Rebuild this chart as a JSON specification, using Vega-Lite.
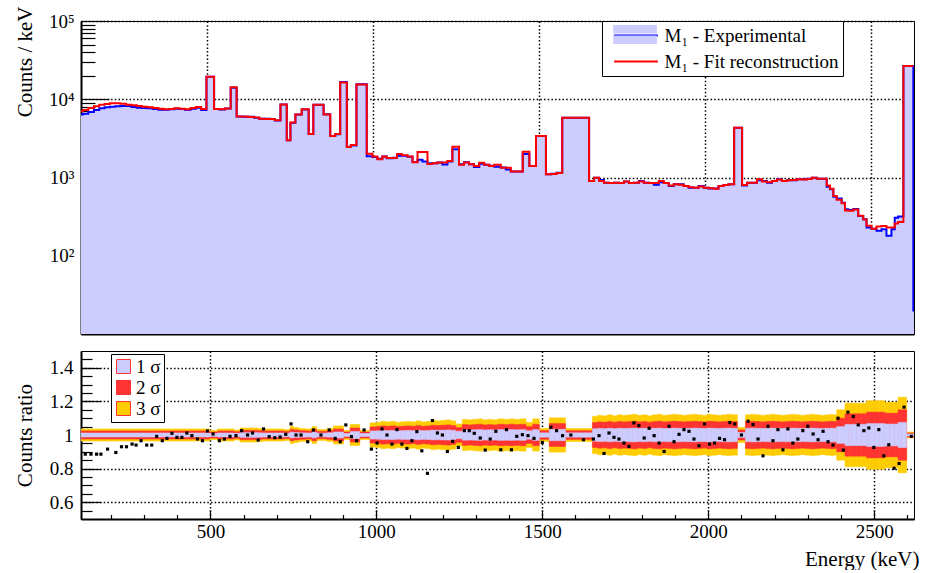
{
"$schema": "https://vega.github.io/schema/vega-lite/v6.json",
"background": "white",
"padding": {"left": 13, "top": 5, "right": 5, "bottom": 0},
"config": {
  "font": "Liberation Serif",
  "view": {"stroke": "black", "strokeWidth": 1},
  "axis": {"labelFont": "Liberation Serif", "titleFont": "Liberation Serif", "labelFontSize": 19, "titleFontSize": 21, "titleFontWeight": "normal", "labelColor": "black", "titleColor": "black", "tickColor": "black", "domainColor": "black", "gridColor": "black", "gridDash": [1.5, 2.2], "gridWidth": 1.5, "gridOpacity": 1, "labelFlush": false, "labelOverlap": false, "zindex": 1},
  "legend": {"labelFont": "Liberation Serif", "labelFontSize": 19, "labelColor": "black", "labelLimit": 400}
},
"datasets": {
"sig": [
{"s":0.006,"l1":0.994,"u1":1.006,"l2":0.988,"u2":1.012,"l3":0.982,"u3":1.018},
{"s":0.009,"l1":0.991,"u1":1.009,"l2":0.982,"u2":1.018,"l3":0.973,"u3":1.027},
{"s":0.01,"l1":0.99,"u1":1.01,"l2":0.98,"u2":1.02,"l3":0.97,"u3":1.03},
{"s":0.011,"l1":0.989,"u1":1.011,"l2":0.978,"u2":1.022,"l3":0.967,"u3":1.033},
{"s":0.012,"l1":0.988,"u1":1.012,"l2":0.976,"u2":1.024,"l3":0.964,"u3":1.036},
{"s":0.013,"l1":0.987,"u1":1.013,"l2":0.974,"u2":1.026,"l3":0.961,"u3":1.039},
{"s":0.014,"l1":0.986,"u1":1.014,"l2":0.972,"u2":1.028,"l3":0.958,"u3":1.042},
{"s":0.015,"l1":0.985,"u1":1.015,"l2":0.97,"u2":1.03,"l3":0.955,"u3":1.045},
{"s":0.017,"l1":0.983,"u1":1.017,"l2":0.966,"u2":1.034,"l3":0.949,"u3":1.051},
{"s":0.018,"l1":0.982,"u1":1.018,"l2":0.964,"u2":1.036,"l3":0.946,"u3":1.054},
{"s":0.021,"l1":0.979,"u1":1.021,"l2":0.958,"u2":1.042,"l3":0.937,"u3":1.063},
{"s":0.022,"l1":0.978,"u1":1.022,"l2":0.956,"u2":1.044,"l3":0.934,"u3":1.066},
{"s":0.024,"l1":0.976,"u1":1.024,"l2":0.952,"u2":1.048,"l3":0.928,"u3":1.072},
{"s":0.025,"l1":0.975,"u1":1.025,"l2":0.95,"u2":1.05,"l3":0.925,"u3":1.075},
{"s":0.026,"l1":0.974,"u1":1.026,"l2":0.948,"u2":1.052,"l3":0.922,"u3":1.078},
{"s":0.027,"l1":0.973,"u1":1.027,"l2":0.946,"u2":1.054,"l3":0.919,"u3":1.081},
{"s":0.028,"l1":0.972,"u1":1.028,"l2":0.944,"u2":1.056,"l3":0.916,"u3":1.084},
{"s":0.029,"l1":0.971,"u1":1.029,"l2":0.942,"u2":1.058,"l3":0.913,"u3":1.087},
{"s":0.03,"l1":0.97,"u1":1.03,"l2":0.94,"u2":1.06,"l3":0.91,"u3":1.09},
{"s":0.031,"l1":0.969,"u1":1.031,"l2":0.938,"u2":1.062,"l3":0.907,"u3":1.093},
{"s":0.032,"l1":0.968,"u1":1.032,"l2":0.936,"u2":1.064,"l3":0.904,"u3":1.096},
{"s":0.034,"l1":0.966,"u1":1.034,"l2":0.932,"u2":1.068,"l3":0.898,"u3":1.102},
{"s":0.037,"l1":0.963,"u1":1.037,"l2":0.926,"u2":1.074,"l3":0.889,"u3":1.111},
{"s":0.038,"l1":0.962,"u1":1.038,"l2":0.924,"u2":1.076,"l3":0.886,"u3":1.114},
{"s":0.039,"l1":0.961,"u1":1.039,"l2":0.922,"u2":1.078,"l3":0.883,"u3":1.117},
{"s":0.04,"l1":0.96,"u1":1.04,"l2":0.92,"u2":1.08,"l3":0.88,"u3":1.12},
{"s":0.041,"l1":0.959,"u1":1.041,"l2":0.918,"u2":1.082,"l3":0.877,"u3":1.123},
{"s":0.05,"l1":0.95,"u1":1.05,"l2":0.9,"u2":1.1,"l3":0.85,"u3":1.15},
{"s":0.063,"l1":0.937,"u1":1.063,"l2":0.874,"u2":1.126,"l3":0.811,"u3":1.189},
{"s":0.065,"l1":0.935,"u1":1.065,"l2":0.87,"u2":1.13,"l3":0.805,"u3":1.195},
{"s":0.068,"l1":0.932,"u1":1.068,"l2":0.864,"u2":1.136,"l3":0.796,"u3":1.204},
{"s":0.075,"l1":0.925,"u1":1.075,"l2":0.85,"u2":1.15,"l3":0.775,"u3":1.225}
],
"bins": [
{"lo":110,"hi":126,"exp":6380,"fit":7050,"s":0.012},
{"lo":126,"hi":142,"exp":6540,"fit":7290,"s":0.012},
{"lo":142,"hi":159,"exp":6875,"fit":7730,"s":0.012},
{"lo":159,"hi":175,"exp":7290,"fit":8120,"s":0.012},
{"lo":175,"hi":191,"exp":7660,"fit":8530,"s":0.012},
{"lo":191,"hi":207,"exp":7880,"fit":8695,"s":0.012},
{"lo":207,"hi":223,"exp":8040,"fit":8870,"s":0.012},
{"lo":223,"hi":239,"exp":8120,"fit":8870,"s":0.012},
{"lo":239,"hi":256,"exp":8200,"fit":8780,"s":0.012},
{"lo":256,"hi":272,"exp":8200,"fit":8530,"s":0.012},
{"lo":272,"hi":288,"exp":7960,"fit":8360,"s":0.012},
{"lo":288,"hi":304,"exp":7810,"fit":8200,"s":0.012},
{"lo":304,"hi":320,"exp":7730,"fit":8040,"s":0.012},
{"lo":320,"hi":336,"exp":7660,"fit":7880,"s":0.012},
{"lo":336,"hi":353,"exp":7510,"fit":7730,"s":0.012},
{"lo":353,"hi":369,"exp":7360,"fit":7580,"s":0.012},
{"lo":369,"hi":385,"exp":7360,"fit":7430,"s":0.012},
{"lo":385,"hi":401,"exp":7430,"fit":7510,"s":0.012},
{"lo":401,"hi":417,"exp":7580,"fit":7660,"s":0.012},
{"lo":417,"hi":433,"exp":7510,"fit":7580,"s":0.012},
{"lo":433,"hi":450,"exp":7360,"fit":7430,"s":0.012},
{"lo":450,"hi":466,"exp":7580,"fit":7730,"s":0.012},
{"lo":466,"hi":482,"exp":7810,"fit":7960,"s":0.012},
{"lo":482,"hi":498,"exp":7300,"fit":7500,"s":0.012},
{"lo":498,"hi":521,"exp":19400,"fit":19400,"s":0.009},
{"lo":521,"hi":537,"exp":7500,"fit":7500,"s":0.012},
{"lo":537,"hi":554,"exp":7400,"fit":7450,"s":0.012},
{"lo":554,"hi":571,"exp":7600,"fit":7600,"s":0.012},
{"lo":571,"hi":589,"exp":14000,"fit":14200,"s":0.01},
{"lo":589,"hi":606,"exp":6000,"fit":6000,"s":0.014},
{"lo":606,"hi":623,"exp":5990,"fit":6000,"s":0.014},
{"lo":623,"hi":642,"exp":5990,"fit":5950,"s":0.014},
{"lo":642,"hi":657,"exp":5800,"fit":5850,"s":0.013},
{"lo":657,"hi":674,"exp":5650,"fit":5650,"s":0.012},
{"lo":674,"hi":690,"exp":5640,"fit":5600,"s":0.012},
{"lo":690,"hi":704,"exp":5600,"fit":5600,"s":0.012},
{"lo":704,"hi":721,"exp":5370,"fit":5400,"s":0.012},
{"lo":721,"hi":740,"exp":8600,"fit":8600,"s":0.011},
{"lo":740,"hi":751,"exp":2990,"fit":2990,"s":0.017},
{"lo":751,"hi":766,"exp":5000,"fit":5050,"s":0.015},
{"lo":766,"hi":785,"exp":6400,"fit":6400,"s":0.013},
{"lo":785,"hi":806,"exp":7400,"fit":7450,"s":0.012},
{"lo":806,"hi":820,"exp":3600,"fit":3600,"s":0.017},
{"lo":820,"hi":851,"exp":8500,"fit":8500,"s":0.011},
{"lo":851,"hi":871,"exp":6450,"fit":6400,"s":0.013},
{"lo":871,"hi":886,"exp":3390,"fit":3400,"s":0.018},
{"lo":886,"hi":901,"exp":3560,"fit":3600,"s":0.018},
{"lo":901,"hi":921,"exp":16600,"fit":16400,"s":0.009},
{"lo":921,"hi":933,"exp":2480,"fit":2450,"s":0.021},
{"lo":933,"hi":950,"exp":2560,"fit":2600,"s":0.021},
{"lo":950,"hi":981,"exp":15500,"fit":15400,"s":0.009},
{"lo":981,"hi":998,"exp":1870,"fit":2010,"s":0.024},
{"lo":998,"hi":1013,"exp":1830,"fit":1850,"s":0.025},
{"lo":1013,"hi":1028,"exp":1730,"fit":1710,"s":0.027},
{"lo":1028,"hi":1041,"exp":1850,"fit":1850,"s":0.026},
{"lo":1041,"hi":1059,"exp":1760,"fit":1780,"s":0.027},
{"lo":1059,"hi":1072,"exp":1790,"fit":1770,"s":0.025},
{"lo":1072,"hi":1087,"exp":1900,"fit":2000,"s":0.026},
{"lo":1087,"hi":1104,"exp":1900,"fit":1930,"s":0.027},
{"lo":1104,"hi":1119,"exp":1840,"fit":1860,"s":0.026},
{"lo":1119,"hi":1134,"exp":1580,"fit":1570,"s":0.028},
{"lo":1134,"hi":1149,"exp":1680,"fit":2120,"s":0.026},
{"lo":1149,"hi":1164,"exp":1600,"fit":2120,"s":0.027},
{"lo":1164,"hi":1179,"exp":1520,"fit":1490,"s":0.029},
{"lo":1179,"hi":1194,"exp":1520,"fit":1520,"s":0.028},
{"lo":1194,"hi":1209,"exp":1550,"fit":1550,"s":0.029},
{"lo":1209,"hi":1224,"exp":1470,"fit":1560,"s":0.03},
{"lo":1224,"hi":1239,"exp":1600,"fit":1620,"s":0.028},
{"lo":1239,"hi":1259,"exp":2300,"fit":2480,"s":0.022},
{"lo":1259,"hi":1274,"exp":1480,"fit":1460,"s":0.031},
{"lo":1274,"hi":1289,"exp":1570,"fit":1550,"s":0.03},
{"lo":1289,"hi":1304,"exp":1480,"fit":1480,"s":0.031},
{"lo":1304,"hi":1320,"exp":1360,"fit":1400,"s":0.032},
{"lo":1320,"hi":1335,"exp":1500,"fit":1540,"s":0.03},
{"lo":1335,"hi":1350,"exp":1450,"fit":1460,"s":0.031},
{"lo":1350,"hi":1365,"exp":1410,"fit":1400,"s":0.03},
{"lo":1365,"hi":1385,"exp":1370,"fit":1450,"s":0.032},
{"lo":1385,"hi":1400,"exp":1340,"fit":1330,"s":0.031},
{"lo":1400,"hi":1415,"exp":1270,"fit":1330,"s":0.032},
{"lo":1415,"hi":1432,"exp":1190,"fit":1190,"s":0.031},
{"lo":1432,"hi":1451,"exp":1190,"fit":1190,"s":0.032},
{"lo":1451,"hi":1471,"exp":2000,"fit":2140,"s":0.025},
{"lo":1471,"hi":1491,"exp":1400,"fit":1400,"s":0.032},
{"lo":1491,"hi":1521,"exp":3390,"fit":3390,"s":0.013},
{"lo":1521,"hi":1537,"exp":1100,"fit":1100,"s":0.034},
{"lo":1537,"hi":1553,"exp":1120,"fit":1110,"s":0.034},
{"lo":1553,"hi":1570,"exp":1150,"fit":1140,"s":0.034},
{"lo":1570,"hi":1651,"exp":5820,"fit":5820,"s":0.013},
{"lo":1651,"hi":1666,"exp":900,"fit":900,"s":0.037},
{"lo":1666,"hi":1681,"exp":995,"fit":995,"s":0.039},
{"lo":1681,"hi":1696,"exp":930,"fit":900,"s":0.038},
{"lo":1696,"hi":1711,"exp":860,"fit":860,"s":0.04},
{"lo":1711,"hi":1726,"exp":850,"fit":850,"s":0.038},
{"lo":1726,"hi":1741,"exp":860,"fit":860,"s":0.04},
{"lo":1741,"hi":1756,"exp":850,"fit":850,"s":0.039},
{"lo":1756,"hi":1771,"exp":890,"fit":890,"s":0.04},
{"lo":1771,"hi":1786,"exp":850,"fit":850,"s":0.041},
{"lo":1786,"hi":1801,"exp":860,"fit":860,"s":0.039},
{"lo":1801,"hi":1816,"exp":900,"fit":890,"s":0.04},
{"lo":1816,"hi":1831,"exp":860,"fit":860,"s":0.038},
{"lo":1831,"hi":1846,"exp":850,"fit":850,"s":0.04},
{"lo":1846,"hi":1861,"exp":810,"fit":850,"s":0.041},
{"lo":1861,"hi":1876,"exp":870,"fit":900,"s":0.039},
{"lo":1876,"hi":1891,"exp":850,"fit":850,"s":0.04},
{"lo":1891,"hi":1906,"exp":780,"fit":790,"s":0.041},
{"lo":1906,"hi":1921,"exp":818,"fit":818,"s":0.04},
{"lo":1921,"hi":1936,"exp":818,"fit":810,"s":0.039},
{"lo":1936,"hi":1951,"exp":778,"fit":778,"s":0.04},
{"lo":1951,"hi":1966,"exp":741,"fit":750,"s":0.041},
{"lo":1966,"hi":1981,"exp":741,"fit":741,"s":0.04},
{"lo":1981,"hi":1996,"exp":778,"fit":770,"s":0.039},
{"lo":1996,"hi":2011,"exp":741,"fit":741,"s":0.041},
{"lo":2011,"hi":2026,"exp":725,"fit":730,"s":0.04},
{"lo":2026,"hi":2041,"exp":725,"fit":720,"s":0.039},
{"lo":2041,"hi":2056,"exp":778,"fit":778,"s":0.04},
{"lo":2056,"hi":2071,"exp":800,"fit":800,"s":0.041},
{"lo":2071,"hi":2088,"exp":818,"fit":818,"s":0.04},
{"lo":2088,"hi":2112,"exp":4330,"fit":4330,"s":0.015},
{"lo":2112,"hi":2127,"exp":790,"fit":800,"s":0.04},
{"lo":2127,"hi":2142,"exp":860,"fit":860,"s":0.041},
{"lo":2142,"hi":2157,"exp":860,"fit":860,"s":0.04},
{"lo":2157,"hi":2172,"exp":920,"fit":948,"s":0.039},
{"lo":2172,"hi":2187,"exp":900,"fit":890,"s":0.04},
{"lo":2187,"hi":2202,"exp":860,"fit":870,"s":0.041},
{"lo":2202,"hi":2217,"exp":900,"fit":900,"s":0.04},
{"lo":2217,"hi":2232,"exp":948,"fit":940,"s":0.039},
{"lo":2232,"hi":2247,"exp":900,"fit":900,"s":0.04},
{"lo":2247,"hi":2262,"exp":920,"fit":920,"s":0.041},
{"lo":2262,"hi":2277,"exp":920,"fit":930,"s":0.04},
{"lo":2277,"hi":2292,"exp":948,"fit":948,"s":0.039},
{"lo":2292,"hi":2307,"exp":948,"fit":940,"s":0.04},
{"lo":2307,"hi":2322,"exp":965,"fit":960,"s":0.041},
{"lo":2322,"hi":2337,"exp":994,"fit":990,"s":0.04},
{"lo":2337,"hi":2352,"exp":965,"fit":965,"s":0.039},
{"lo":2352,"hi":2367,"exp":965,"fit":965,"s":0.04},
{"lo":2367,"hi":2377,"exp":764,"fit":790,"s":0.041},
{"lo":2377,"hi":2387,"exp":706,"fit":720,"s":0.04},
{"lo":2387,"hi":2397,"exp":569,"fit":580,"s":0.05},
{"lo":2397,"hi":2412,"exp":540,"fit":520,"s":0.05},
{"lo":2412,"hi":2422,"exp":476,"fit":470,"s":0.063},
{"lo":2422,"hi":2432,"exp":392,"fit":380,"s":0.063},
{"lo":2432,"hi":2447,"exp":385,"fit":375,"s":0.063},
{"lo":2447,"hi":2462,"exp":396,"fit":390,"s":0.063},
{"lo":2462,"hi":2477,"exp":322,"fit":325,"s":0.063},
{"lo":2477,"hi":2487,"exp":292,"fit":290,"s":0.068},
{"lo":2487,"hi":2502,"exp":229,"fit":241,"s":0.068},
{"lo":2502,"hi":2517,"exp":222,"fit":222,"s":0.068},
{"lo":2517,"hi":2532,"exp":209,"fit":236,"s":0.068},
{"lo":2532,"hi":2547,"exp":218,"fit":240,"s":0.065},
{"lo":2547,"hi":2562,"exp":180,"fit":229,"s":0.065},
{"lo":2562,"hi":2572,"exp":218,"fit":229,"s":0.065},
{"lo":2572,"hi":2582,"exp":306,"fit":259,"s":0.075},
{"lo":2582,"hi":2598,"exp":318,"fit":270,"s":0.075},
{"lo":2598,"hi":2628,"exp":26600,"fit":26600,"s":0.006},
{"lo":2628,"hi":2631,"exp":20,"fit":26600},
{"lo":2631,"exp":20}
],
"dots": [
{"e":123,"r":0.886},{"e":140,"r":0.886},{"e":157,"r":0.886},{"e":170,"r":0.886},{"e":190,"r":0.916},{"e":215,"r":0.896},{"e":232,"r":0.93},{"e":247,"r":0.93},{"e":264,"r":0.946},{"e":276,"r":0.94},{"e":291,"r":0.966},{"e":308,"r":0.94},{"e":323,"r":0.94},{"e":338,"r":0.992},{"e":355,"r":0.966},{"e":369,"r":0.98},{"e":384,"r":1.01},{"e":399,"r":0.986},{"e":414,"r":0.986},{"e":429,"r":1.012},{"e":444,"r":0.996},{"e":461,"r":0.976},{"e":476,"r":0.966},{"e":491,"r":1.024},{"e":508,"r":1.006},{"e":527,"r":0.966},{"e":542,"r":0.976},{"e":559,"r":0.992},{"e":577,"r":0.996},{"e":594,"r":1.026},{"e":612,"r":1.0},{"e":627,"r":1.012},{"e":644,"r":0.97},{"e":660,"r":1.036},{"e":677,"r":0.99},{"e":694,"r":0.984},{"e":710,"r":0.988},{"e":727,"r":1.004},{"e":743,"r":1.066},{"e":758,"r":1.0},{"e":773,"r":1.0},{"e":793,"r":0.96},{"e":810,"r":1.03},{"e":833,"r":1.0},{"e":858,"r":1.03},{"e":876,"r":0.98},{"e":891,"r":0.96},{"e":908,"r":1.06},{"e":925,"r":0.99},{"e":940,"r":0.966},{"e":963,"r":1.03},{"e":985,"r":0.916},
{"e":1002,"r":0.952},{"e":1017,"r":1.036},{"e":1032,"r":1.0},{"e":1047,"r":0.946},{"e":1062,"r":1.032},{"e":1077,"r":0.946},{"e":1092,"r":0.92},{"e":1107,"r":0.966},{"e":1122,"r":1.02},{"e":1137,"r":0.906},{"e":1154,"r":0.772},{"e":1169,"r":1.086},{"e":1184,"r":1.012},{"e":1199,"r":1.0},{"e":1214,"r":0.902},{"e":1230,"r":0.962},{"e":1247,"r":0.926},{"e":1265,"r":1.026},{"e":1280,"r":1.026},{"e":1295,"r":1.01},{"e":1313,"r":0.982},{"e":1328,"r":0.91},{"e":1343,"r":0.976},{"e":1360,"r":1.022},{"e":1375,"r":0.912},{"e":1392,"r":1.032},{"e":1407,"r":0.912},{"e":1423,"r":0.992},{"e":1440,"r":1.002},{"e":1457,"r":0.996},{"e":1475,"r":0.98},{"e":1500,"r":0.956},{"e":1526,"r":1.046},{"e":1543,"r":1.026},{"e":1561,"r":0.996},{"e":1586,"r":1.0},{"e":1624,"r":0.972},{"e":1654,"r":0.976},{"e":1671,"r":0.996},{"e":1686,"r":0.89},{"e":1701,"r":1.012},{"e":1716,"r":0.986},{"e":1731,"r":0.976},{"e":1746,"r":0.952},{"e":1761,"r":0.932},{"e":1776,"r":1.072},{"e":1791,"r":1.056},{"e":1807,"r":0.982},{"e":1822,"r":1.04},{"e":1837,"r":0.996},{"e":1852,"r":0.952},{"e":1867,"r":0.902},{"e":1882,"r":1.052},{"e":1897,"r":0.96},{"e":1912,"r":1.004},{"e":1927,"r":1.032},{"e":1942,"r":1.022},{"e":1957,"r":0.976},{"e":1972,"r":0.936},{"e":1989,"r":1.066},
{"e":2004,"r":0.946},{"e":2019,"r":0.952},{"e":2034,"r":0.98},{"e":2049,"r":0.972},{"e":2065,"r":1.074},{"e":2080,"r":1.066},{"e":2100,"r":1.0},{"e":2120,"r":1.082},{"e":2135,"r":1.062},{"e":2150,"r":0.976},{"e":2165,"r":0.876},{"e":2180,"r":1.052},{"e":2195,"r":0.966},{"e":2210,"r":1.032},{"e":2225,"r":0.912},{"e":2240,"r":1.036},{"e":2255,"r":0.952},{"e":2270,"r":0.976},{"e":2285,"r":1.026},{"e":2300,"r":1.052},{"e":2316,"r":1.006},{"e":2331,"r":0.972},{"e":2346,"r":1.022},{"e":2361,"r":0.96},{"e":2376,"r":0.94},{"e":2391,"r":1.1},{"e":2407,"r":0.91},{"e":2421,"r":1.136},{"e":2437,"r":1.11},{"e":2452,"r":1.06},{"e":2469,"r":1.026},{"e":2484,"r":1.042},{"e":2499,"r":0.926},{"e":2514,"r":1.032},{"e":2529,"r":0.876},{"e":2544,"r":0.942},{"e":2560,"r":0.802},{"e":2575,"r":0.83},{"e":2590,"r":1.166},{"e":2612,"r":0.992}
]
},
"spacing": 14,
"resolve": {"scale": {"x": "independent", "y": "independent", "fill": "independent", "stroke": "independent"}, "legend": {"fill": "independent", "stroke": "independent"}},
"vconcat": [
{
  "width": 833, "height": 313,
  "data": {"name": "bins"},
  "resolve": {"axis": {"x": "independent", "y": "independent"}},
  "layer": [
    {
      "mark": {"type": "area", "interpolate": "step-after", "clip": true, "opacity": 1},
      "encoding": {
        "x": {"field": "lo", "type": "quantitative", "scale": {"domain": [120, 2630], "nice": false, "zero": false},
              "axis": {"orient": "bottom", "values": [200,300,400,600,700,800,900,1100,1200,1300,1400,1600,1700,1800,1900,2100,2200,2300,2400,2600], "tickSize": -4.5, "tickWidth": 1.2, "labels": false, "grid": false, "domain": true, "domainWidth": 2, "title": null}},
        "y": {"field": "exp", "type": "quantitative", "scale": {"type": "log", "domain": [10, 100000], "nice": false},
              "axis": {"orient": "left", "values": [20,30,40,50,60,70,80,90,200,300,400,500,600,700,800,900,2000,3000,4000,5000,6000,7000,8000,9000,20000,30000,40000,50000,60000,70000,80000,90000], "tickSize": -14, "tickWidth": 1.2, "labels": false, "grid": false, "domain": true, "domainWidth": 2, "title": null}},
        "y2": {"datum": 10},
        "fill": {"datum": "M₁ - Experimental",
                 "scale": {"domain": ["M₁ - Experimental", "M₁ - Fit reconstruction", "-"], "range": ["#ccccff", "transparent", "transparent"]},
                 "legend": {"values": ["M₁ - Experimental", "M₁ - Fit reconstruction"], "orient": "none", "legendX": 521, "legendY": 0, "title": null,
                            "symbolType": "M-2.3,-1H2.3V-0.1H-2.3ZM-2.3,0.1H2.3V1H-2.3Z", "symbolSize": 361, "symbolOffset": 19.5, "symbolStrokeWidth": 0, "symbolOpacity": 1,
                            "labelExpr": "''", "labelOffset": 18, "padding": 4, "rowPadding": 5, "zindex": 3}}
      }
    },
    {
      "mark": {"type": "line", "interpolate": "step-after", "clip": true, "strokeWidth": 2},
      "encoding": {
        "x": {"field": "lo", "type": "quantitative",
              "axis": {"orient": "bottom", "values": [500,1000,1500,2000,2500], "tickSize": -9, "tickWidth": 1.2, "labels": false, "grid": true, "domain": false, "title": null}},
        "y": {"field": "exp", "type": "quantitative",
              "axis": {"orient": "left", "values": [100,1000,10000,100000], "tickSize": -28, "tickWidth": 1.2, "labelPadding": 35,
                       "labelExpr": "datum.value >= 99999 ? '10⁵' : datum.value >= 9999 ? '10⁴' : datum.value >= 999 ? '10³' : '10²'",
                       "grid": true, "domain": false, "title": "Counts / keV", "titleX": -46, "titleY": -15, "titleAngle": 270, "titleAlign": "right", "titleBaseline": "bottom"}},
        "stroke": {"datum": "M₁ - Experimental",
                   "scale": {"domain": ["M₁ - Experimental", "M₁ - Fit reconstruction"], "range": ["#0000ff", "#ff0000"]},
                   "legend": {"orient": "none", "legendX": 521, "legendY": 0, "title": null, "symbolType": "M-2.3,0H2.3", "symbolSize": 361, "symbolOffset": 19.5, "symbolStrokeWidth": 2,
                              "labelFontSize": 19, "labelOffset": 18, "padding": 4, "rowPadding": 5, "fillColor": "white", "strokeColor": "black", "zindex": 2}}
      }
    },
    {
      "mark": {"type": "line", "interpolate": "step-after", "clip": true, "strokeWidth": 2},
      "encoding": {
        "x": {"field": "lo", "type": "quantitative", "axis": null},
        "y": {"field": "fit", "type": "quantitative", "axis": null},
        "stroke": {"datum": "M₁ - Fit reconstruction"}
      }
    }
  ]
},
{
  "width": 833, "height": 168,
  "resolve": {"axis": {"x": "independent", "y": "independent"}},
  "layer": [
    {
      "data": {"name": "bins"},
      "transform": [{"filter": "isValid(datum.s)"}, {"lookup": "s", "from": {"data": {"name": "sig"}, "key": "s", "fields": ["l1","u1","l2","u2","l3","u3"]}}],
      "mark": {"type": "rect", "clip": true, "stroke": "#ffcc00", "strokeWidth": 0.5},
      "encoding": {
        "x": {"field": "lo", "type": "quantitative", "scale": {"domain": [110, 2620], "nice": false, "zero": false},
              "axis": {"orient": "bottom", "values": [200,300,400,600,700,800,900,1100,1200,1300,1400,1600,1700,1800,1900,2100,2200,2300,2400,2600], "tickSize": -4.5, "tickWidth": 1.2, "labels": false, "grid": false, "domain": true, "domainWidth": 2, "title": null}},
        "x2": {"field": "hi"},
        "y": {"field": "l3", "type": "quantitative", "scale": {"domain": [0.5, 1.5], "nice": false, "zero": false},
              "axis": {"orient": "left", "values": [0.55,0.6,0.65,0.7,0.75,0.8,0.85,0.9,0.95,1,1.05,1.1,1.15,1.2,1.25,1.3,1.35,1.4,1.45], "tickSize": -11, "tickWidth": 1.2, "labels": false, "grid": false, "domain": true, "domainWidth": 2, "title": null}},
        "y2": {"field": "u3"},
        "fill": {"datum": "3 σ",
                 "scale": {"domain": ["1 σ", "2 σ", "3 σ"], "range": ["#ccccff", "#ff3333", "#ffcc00"]},
                 "legend": {"orient": "none", "legendX": 30, "legendY": 3, "title": null, "symbolType": "square", "symbolSize": 196, "symbolStrokeColor": "#333333", "symbolStrokeWidth": 1, "symbolOpacity": 1, "labelFontSize": 19, "labelOffset": 3, "padding": 3, "rowPadding": 1, "fillColor": "white", "strokeColor": "black", "zindex": 2}}
      }
    },
    {
      "data": {"name": "bins"},
      "transform": [{"filter": "isValid(datum.s)"}, {"lookup": "s", "from": {"data": {"name": "sig"}, "key": "s", "fields": ["l1","u1","l2","u2","l3","u3"]}}],
      "mark": {"type": "rect", "clip": true, "stroke": "#ff3333", "strokeWidth": 0.5},
      "encoding": {
        "x": {"field": "lo", "type": "quantitative",
              "axis": {"orient": "bottom", "values": [500,1000,1500,2000,2500], "tickSize": -9, "tickWidth": 1.2, "labelPadding": 12, "format": "d", "grid": true, "domain": false,
                       "title": "Energy (keV)", "titleX": 838, "titleY": 46, "titleAlign": "right", "titleBaseline": "alphabetic"}},
        "x2": {"field": "hi"},
        "y": {"field": "l2", "type": "quantitative",
              "axis": {"orient": "left", "values": [0.6,0.8,1,1.2,1.4], "tickSize": -20, "tickWidth": 1.2, "labelPadding": 28, "format": "~g", "grid": true, "domain": false,
                       "title": "Counts ratio", "titleX": -46, "titleY": 84, "titleAngle": 270, "titleAlign": "center", "titleBaseline": "bottom"}},
        "y2": {"field": "u2"},
        "fill": {"datum": "2 σ"}
      }
    },
    {
      "data": {"name": "bins"},
      "transform": [{"filter": "isValid(datum.s)"}, {"lookup": "s", "from": {"data": {"name": "sig"}, "key": "s", "fields": ["l1","u1","l2","u2","l3","u3"]}}],
      "mark": {"type": "rect", "clip": true, "stroke": "#ccccff", "strokeWidth": 0.5},
      "encoding": {
        "x": {"field": "lo", "type": "quantitative", "axis": null},
        "x2": {"field": "hi"},
        "y": {"field": "l1", "type": "quantitative", "axis": null},
        "y2": {"field": "u1"},
        "fill": {"datum": "1 σ"}
      }
    },
    {
      "data": {"name": "dots"},
      "mark": {"type": "point", "shape": "square", "filled": true, "size": 10, "color": "black", "opacity": 1, "clip": true},
      "encoding": {
        "x": {"field": "e", "type": "quantitative", "axis": null},
        "y": {"field": "r", "type": "quantitative", "axis": null}
      }
    }
  ]
}
]
}
